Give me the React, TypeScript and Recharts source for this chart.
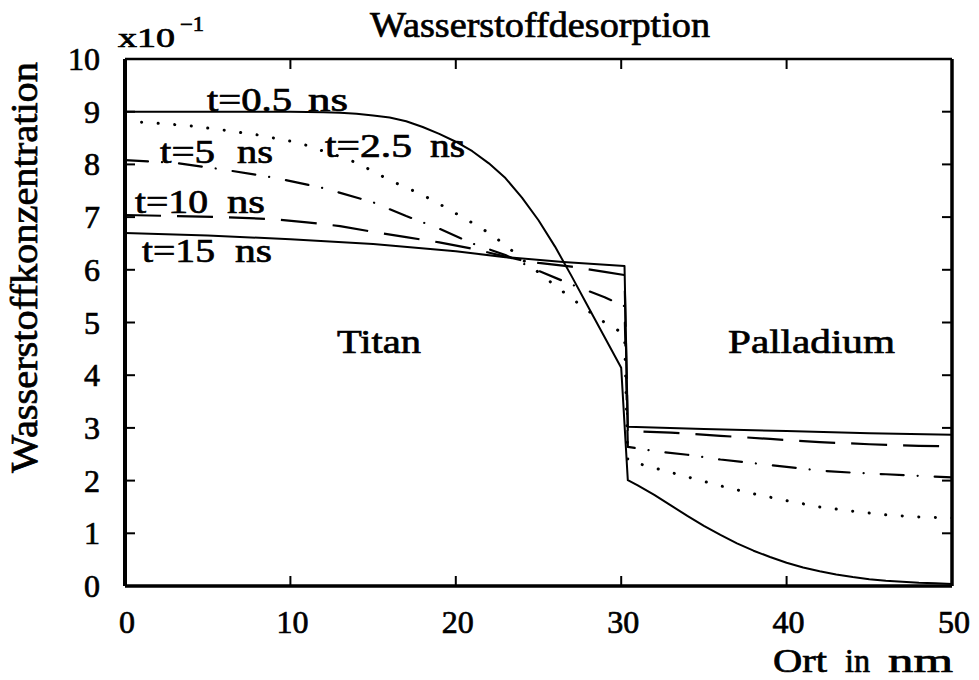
import React from "react";
import { LineChart, Line, XAxis, YAxis } from "recharts";

// Ort in nm (x) and Wasserstoffkonzentration x10^-1 (y)
const X_TICKS = [0, 10, 20, 30, 40, 50];
const Y_TICKS = [0, 1, 2, 3, 4, 5, 6, 7, 8, 9, 10];

// t = 0.5 ns (solid)
const T05_X = [0, 10, 12, 13, 14, 15, 16, 17, 18, 19, 20, 21, 22, 23, 24, 25, 26, 27, 28, 29, 30,
  30.4, 31, 32, 33, 34, 35, 36, 37, 38, 39, 40, 41, 42, 43, 44, 45, 46, 47, 48, 49, 50];
const T05_Y = [9.0, 9.0, 8.99, 8.98, 8.96, 8.93, 8.89, 8.82, 8.71, 8.58, 8.43, 8.25, 8.02, 7.74, 7.37, 6.94, 6.44, 5.88, 5.3, 4.72, 4.14,
  2.01, 1.91, 1.73, 1.53, 1.33, 1.14, 0.97, 0.81, 0.67, 0.55, 0.44, 0.35, 0.28, 0.22, 0.17, 0.13, 0.1, 0.08, 0.06, 0.05, 0.04];

// t = 2.5 ns (dotted)
const T25_X = [0, 2, 4, 6, 8, 10, 11, 12, 13, 14, 15, 16, 17, 18, 19, 20, 21, 22, 23, 24, 25, 26, 27, 28, 29, 30.2,
  30.4, 32, 34, 36, 38, 40, 42, 44, 46, 48, 50];
const T25_Y = [8.82, 8.78, 8.73, 8.65, 8.56, 8.44, 8.36, 8.25, 8.15, 8.03, 7.87, 7.7, 7.56, 7.42, 7.25, 7.07, 6.89, 6.7, 6.47, 6.2, 5.95, 5.7, 5.46, 5.22, 5.0, 4.78,
  2.38, 2.24, 2.07, 1.9, 1.75, 1.62, 1.5, 1.42, 1.35, 1.31, 1.29];

// t = 5 ns (dash-dot)
const T5_X = [0, 3, 6, 9, 12, 15, 17, 19, 21, 23, 25, 27, 29, 30.2,
  30.4, 32, 34, 36, 38, 40, 42, 44, 46, 48, 50];
const T5_Y = [8.08, 8.03, 7.9, 7.75, 7.55, 7.28, 7.02, 6.78, 6.5, 6.28, 5.98, 5.72, 5.48, 5.31,
  2.64, 2.56, 2.49, 2.4, 2.33, 2.26, 2.19, 2.15, 2.12, 2.09, 2.06];

// t = 10 ns (dashed)
const T10_X = [0, 3, 6, 9, 11, 13, 15, 17, 19, 21, 23, 24, 25, 27, 29, 30.2,
  30.4, 33, 36, 39, 42, 45, 48, 50];
const T10_Y = [7.04, 7.02, 7.0, 6.96, 6.9, 6.83, 6.72, 6.62, 6.52, 6.4, 6.25, 6.18, 6.13, 6.06, 5.96, 5.9,
  2.94, 2.91, 2.85, 2.79, 2.73, 2.69, 2.66, 2.65];

// t = 15 ns (solid)
const T15_X = [0, 5, 10, 15, 20, 23, 26.5, 30.2, 30.4, 35, 40, 45, 50];
const T15_Y = [6.7, 6.65, 6.58, 6.49, 6.35, 6.24, 6.15, 6.07, 3.02, 2.98, 2.94, 2.9, 2.87];

const toPoints = (xs: number[], ys: number[]) => xs.map((x, i) => ({ x, y: ys[i] }));

const SERIES = [
  { key: "t05", data: toPoints(T05_X, T05_Y), width: 2, dash: undefined, cap: "butt" },
  { key: "t25", data: toPoints(T25_X, T25_Y), width: 3, dash: "0.1 16.5", cap: "round" },
  { key: "t5", data: toPoints(T5_X, T5_Y), width: 2.2, dash: "23 14 0.1 17", cap: "round" },
  { key: "t10", data: toPoints(T10_X, T10_Y), width: 2.2, dash: "36 16", cap: "butt" },
  { key: "t15", data: toPoints(T15_X, T15_Y), width: 2, dash: undefined, cap: "butt" },
];

const FONT = '"Liberation Serif", "Times New Roman", serif';
const txt = { fontFamily: FONT, fontWeight: 400, fill: "#000", stroke: "#000", strokeWidth: 0.7 } as const;

const LeftTick = ({ x, y, payload }: any) => {
  const v = payload?.value;
  return (
    <g>
      {v > 0 && v < 10 && <line x1={x} x2={x + 10} y1={y} y2={y} stroke="#000" strokeWidth={2} />}
      <text x={x - 25} y={y + 11} textAnchor="end" fontSize={32} style={txt}>{v}</text>
    </g>
  );
};

const RightTick = ({ x, y, payload }: any) => {
  const v = payload?.value;
  if (!(v > 0 && v < 10)) return <g />;
  return <line x1={x} x2={x - 10} y1={y} y2={y} stroke="#000" strokeWidth={2} />;
};

const BottomTick = ({ x, y, payload }: any) => {
  const v = payload?.value;
  return (
    <g>
      {v > 0 && v < 50 && <line x1={x} x2={x} y1={y} y2={y - 10} stroke="#000" strokeWidth={2} />}
      <text x={x + 2} y={y + 47} textAnchor="middle" fontSize={32} style={txt}>{v}</text>
    </g>
  );
};

const TopTick = ({ x, y, payload }: any) => {
  const v = payload?.value;
  if (!(v > 0 && v < 50)) return <g />;
  return <line x1={x} x2={x} y1={y} y2={y + 10} stroke="#000" strokeWidth={2} />;
};

// text placed with its left edge, width and baseline
const Txt = ({ x, w, y, size, children }: any) => (
  <text x={x} y={y} textLength={w} lengthAdjust="spacingAndGlyphs" fontSize={size} style={txt}>
    {children}
  </text>
);

export default function App() {
  return (
    <div style={{ position: "absolute", left: 0, top: 0, width: 979, height: 680, background: "#fff" }}>
      <LineChart width={979} height={680} margin={{ top: 0, right: 0, bottom: 0, left: 0 }}>
        <XAxis
          dataKey="x"
          type="number"
          domain={[0, 50]}
          ticks={X_TICKS}
          height={94}
          tickSize={0}
          tickMargin={0}
          tickLine={false}
          tick={<BottomTick />}
          axisLine={{ stroke: "#000", strokeWidth: 3.5 }}
          allowDataOverflow
        />
        <XAxis
          xAxisId="top"
          orientation="top"
          dataKey="x"
          type="number"
          domain={[0, 50]}
          ticks={X_TICKS}
          height={59}
          tickSize={0}
          tickMargin={0}
          tickLine={false}
          tick={<TopTick />}
          axisLine={{ stroke: "#000", strokeWidth: 2.5 }}
          allowDataOverflow
        />
        <YAxis
          type="number"
          domain={[0, 10]}
          ticks={Y_TICKS}
          width={125}
          tickSize={0}
          tickMargin={0}
          tickLine={false}
          tick={<LeftTick />}
          axisLine={{ stroke: "#000", strokeWidth: 4 }}
          allowDataOverflow
        />
        <YAxis
          yAxisId="right"
          orientation="right"
          type="number"
          domain={[0, 10]}
          ticks={Y_TICKS}
          width={27}
          tickSize={0}
          tickMargin={0}
          tickLine={false}
          tick={<RightTick />}
          axisLine={{ stroke: "#000", strokeWidth: 3.5 }}
          allowDataOverflow
        />
        {SERIES.map((s) => (
          <Line
            key={s.key}
            data={s.data}
            dataKey="y"
            type="linear"
            stroke="#000"
            strokeWidth={s.width}
            strokeDasharray={s.dash}
            strokeLinecap={s.cap as any}
            strokeLinejoin="round"
            dot={false}
            activeDot={false}
            isAnimationActive={false}
          />
        ))}
      </LineChart>

      <svg width={979} height={680} style={{ position: "absolute", left: 0, top: 0, pointerEvents: "none" }}>
        <Txt x={370} w={340} y={37} size={35}>Wasserstoffdesorption</Txt>
        <Txt x={118} w={57} y={47} size={27}>x10</Txt>
        <Txt x={180} w={24} y={31} size={20}>−1</Txt>
        <g transform="translate(37 473) rotate(-90)">
          <text x={0} y={0} textLength={411} lengthAdjust="spacingAndGlyphs" fontSize={37} style={txt}>
            Wasserstoffkonzentration
          </text>
        </g>

        <Txt x={773} w={54} y={672} size={33}>Ort</Txt>
        <Txt x={845} w={25} y={672} size={33}>in</Txt>
        <Txt x={888} w={65} y={672} size={33}>nm</Txt>

        <Txt x={337} w={84} y={353} size={34}>Titan</Txt>
        <Txt x={728} w={167} y={353} size={34}>Palladium</Txt>

        <Txt x={207} w={85} y={111} size={33}>t=0.5</Txt>
        <Txt x={308} w={40} y={111} size={33}>ns</Txt>
        <Txt x={325} w={87} y={157} size={33}>t=2.5</Txt>
        <Txt x={430} w={35} y={157} size={33}>ns</Txt>
        <Txt x={160} w={55} y={163} size={33}>t=5</Txt>
        <Txt x={237} w={36} y={163} size={33}>ns</Txt>
        <Txt x={135} w={73} y={213} size={33}>t=10</Txt>
        <Txt x={227} w={38} y={213} size={33}>ns</Txt>
        <Txt x={142} w={73} y={262} size={33}>t=15</Txt>
        <Txt x={235} w={37} y={262} size={33}>ns</Txt>
      </svg>
    </div>
  );
}
